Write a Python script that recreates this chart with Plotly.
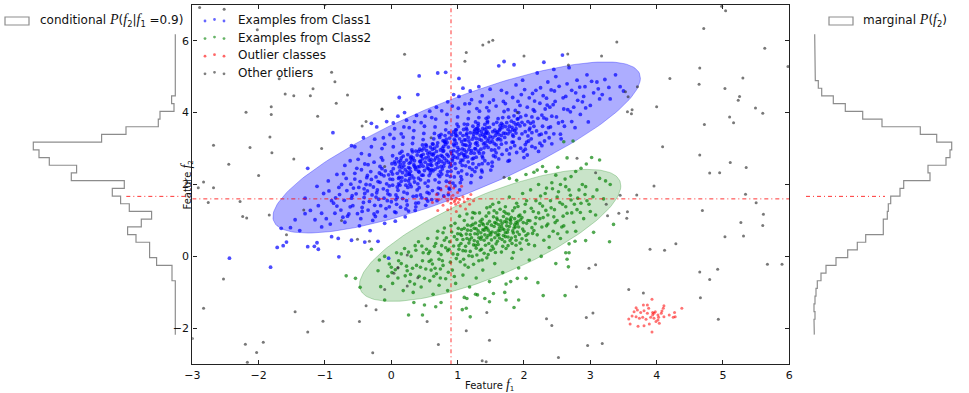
import plotly.graph_objects as go
import math

W, H = 969, 393
x_ticks = [-3, -2, -1, 0, 1, 2, 3, 4, 5, 6]
y_ticks = [-2, 0, 2, 4, 6]
f1_condition = 0.9
f2_condition = 1.6
hist_marker = 1.67

hist_edges = [6.176, 5.962, 5.748, 5.534, 5.319, 5.105, 4.891, 4.677, 4.463, 4.249, 4.035, 3.820, 3.606,
              3.392, 3.178, 2.964, 2.750, 2.536, 2.321, 2.107, 1.893, 1.679, 1.465, 1.251, 1.037, 0.822,
              0.608, 0.394, 0.180, -0.034, -0.248, -0.462, -0.677, -0.891, -1.105, -1.319, -1.533, -1.747,
              -1.961, -2.175]
cond_counts = [0, 0, 0, 0, 0, 0, 0, 0, 3.7, 1.3, 15.3, 17, 49.3, 73.7, 142, 136.3, 126, 98.7, 104, 51, 63,
               54.7, 46, 23.7, 34, 47.7, 39.3, 25.7, 25.7, 18.7, 3.3, 3.3, 0, 0, 0, 0, 0, 0, 0]
marg_counts = [0.7, 0.7, 0.7, 1, 1.3, 1.3, 4.3, 7.7, 19.3, 31.3, 48.7, 68, 106.3, 122.7, 137.7, 136, 132, 114,
               116, 89.7, 86, 76.7, 74.3, 73.3, 69.3, 69.3, 51.7, 43.3, 33.7, 22, 12, 7, 3.3, 2, 1, 0, 1, 0, 0.3]

# ellipse: centre x, centre y, half extent x, half extent y, correlation
ellipse1 = (0.985, 3.03, 2.77, 2.38, 0.81)
ellipse2 = (1.49, 0.585, 1.97, 1.835, 0.75)

class1 = [
(-2.44,-.05),(-1.82,-.3),(-1.72,.25),(-1.63,.3),(-1.58,.4),(-1.26,.27),(-1.16,.28),(-1.1,.2),(-1.12,.38),(-.79,-.01),
(-.9,.55),(-.8,.5),(-.6,.45),(-.4,.4),(-.2,.42),(-.04,-.05),(-1.26,2.45),(-.6,3.08),(-.88,3.44),(-.07,3.75),(.1,3.9),
(-1.66,.78),(-1.52,.8),(-1.45,1.02),(-1.3,1.19),(-1.38,.72),(-1.1,1.41),(-1.22,1.28),(-1.05,1.2),(-.98,1.05),(-1.15,1.02),
(-.9,1.55),(-1.02,1.75),(-1.3,1.62),(-1.12,1.95),(-.95,2.1),(-1.05,.82),(-.92,.9),(-.85,1.2),(-.82,1.4),(-.78,1.72),
(-.75,2.0),(-.72,2.3),(-.7,.95),(-.66,1.12),(-.62,1.38),(-.6,1.62),(-.57,1.9),(-.55,2.15),(-.52,2.45),(-.5,2.7),(-.48,.85),
(-.46,1.05),(-.44,1.25),(-.42,1.5),(-.4,1.75),(-.38,2.0),(-.36,2.25),(-.35,2.55),(-.33,2.82),(-.3,3.05),(-.32,.72),(-.28,1.0),
(-.26,1.18),(-.25,1.42),(-.23,1.65),(-.21,1.85),(-.2,2.08),(-.18,2.32),(-.17,2.5),(-.15,2.75),(-.14,3.0),(-.12,3.3),(-.1,.92),
(-.09,1.12),(-.08,1.33),(-.06,1.55),(-.05,1.74),(-.03,1.96),(-.02,2.15),(0,2.36),(.01,2.58),(.02,2.8),(.03,3.05),(.04,3.28),
(.05,3.55),(.06,.98),(.07,1.22),(.08,1.45),(.09,1.64),(.1,1.84),(.11,2.02),(.12,2.2),(.13,2.38),(.14,2.56),(.15,2.74),(.16,2.92),
(.17,3.12),(.18,3.32),(.19,3.6),(.2,4.0),(.21,1.1),(.22,1.32),(.23,1.55),(.24,1.75),(.25,1.92),(.26,2.1),(.27,2.28),(.28,2.45),
(.29,2.62),(.3,2.78),(.31,2.96),(.32,3.14),(.33,3.3),(.34,3.5),(.35,3.75),(.36,1.28),(.37,1.48),(.38,1.68),(.39,1.85),(.4,2.02),
(.41,2.18),(.42,2.34),(.43,2.5),(.44,2.65),(.45,2.8),(.46,2.95),(.47,3.1),(.48,3.25),(.49,3.42),(.5,3.62),(.51,3.9),(.52,1.42),
(.53,1.6),(.54,1.78),(.55,1.95),(.56,2.1),(.57,2.25),(.58,2.4),(.59,2.55),(.6,2.7),(.61,2.84),(.62,2.98),(.63,3.12),(.64,3.27),
(.65,3.42),(.66,3.6),(.67,3.82),(.68,4.15),(.69,1.55),(.7,1.74),(.71,1.9),(.72,2.06),(.73,2.22),(.74,2.36),(.75,2.5),(.76,2.64),
(.77,2.78),(.78,2.92),(.79,3.06),(.8,3.2),(.81,3.36),(.82,3.52),(.83,3.72),(.84,3.95),(.85,4.3),(.86,1.72),(.87,1.9),(.88,2.06),
(.89,2.22),(.9,2.37),(.91,2.52),(.92,2.66),(.93,2.8),(.94,2.94),(.95,3.08),(.96,3.22),(.97,3.37),(.98,3.52),(.99,3.68),(1.0,3.88),
(1.01,4.12),(1.02,4.45),(1.03,1.85),(1.04,2.05),(1.05,2.22),(1.06,2.38),(1.07,2.53),(1.08,2.68),(1.09,2.82),(1.1,2.96),(1.11,3.1),
(1.12,3.24),(1.13,3.38),(1.14,3.52),(1.15,3.67),(1.16,3.83),(1.17,4.02),(1.18,4.25),(1.19,4.6),(1.2,2.05),(1.21,2.25),(1.22,2.42),
(1.23,2.58),(1.24,2.73),(1.25,2.87),(1.26,3.0),(1.27,3.14),(1.28,3.28),(1.29,3.42),(1.3,3.56),(1.31,3.7),(1.32,3.86),(1.33,4.04),
(1.34,4.3),(1.35,2.2),(1.36,2.4),(1.37,2.58),(1.38,2.74),(1.39,2.88),(1.4,3.02),(1.41,3.16),(1.42,3.3),(1.43,3.44),(1.44,3.58),
(1.45,3.72),(1.46,3.87),(1.47,4.05),(1.48,4.28),(1.49,4.65),(1.5,2.4),(1.52,2.62),(1.54,2.8),(1.56,2.96),(1.58,3.1),(1.6,3.25),
(1.62,3.4),(1.64,3.55),(1.66,3.7),(1.68,3.86),(1.7,4.03),(1.72,4.25),(1.74,4.55),(1.76,2.65),(1.78,2.85),(1.8,3.02),(1.82,3.18),
(1.84,3.34),(1.86,3.5),(1.88,3.66),(1.9,3.82),(1.92,4.0),(1.94,4.2),(1.96,4.5),(1.98,4.9),(2.0,2.75),(2.02,2.98),(2.04,3.18),
(2.06,3.35),(2.08,3.52),(2.1,3.7),(2.12,3.88),(2.14,4.08),(2.16,4.32),(2.18,4.62),(2.2,5.1),(2.22,2.92),(2.24,3.15),(2.26,3.4),
(2.28,3.62),(2.3,3.85),(2.32,4.1),(2.34,4.4),(2.36,4.85),(2.38,3.3),(2.4,3.6),(2.42,3.9),(2.44,4.22),(2.46,4.6),(2.48,5.0),
(2.55,3.4),(2.58,3.75),(2.6,4.1),(2.63,4.45),(2.65,4.8),(2.68,5.25),(2.72,3.75),(2.75,4.15),(2.78,4.55),(2.8,4.9),(2.85,3.95),
(2.88,4.3),(2.92,4.72),(2.95,5.05),(3.0,4.2),(3.05,4.55),(3.1,4.85),(3.18,4.5),(3.28,4.7),(3.38,5.05),(3.45,4.72),(3.5,4.6),
(.42,5.02),(.7,5.1),(.82,5.12),(1.02,4.95),(1.62,5.3),(1.7,5.42),(1.85,5.33),(2.3,5.4),(2.58,5.6),(2.45,5.2),(.4,4.5),(.12,4.42),
(-.3,3.7),(-.42,3.3),(-.55,3.05),(-.22,3.6),
]
class1_core = [
(.37,2.93),(1.22,2.71),(.64,2.86),(1.71,3.31),(.13,2.87),(.93,2.04),(1.48,3.59),(.51,2.62),(1.09,3.53),(.28,2.01),(1.87,4.06),(.72,3.36),
(1.33,2.87),(.44,2.13),(1.61,3.83),(.86,3.04),(1.16,2.63),(.08,2.72),(1.94,3.63),(.59,2.32),(1.27,3.74),(.21,2.41),(1.55,3.14),(.67,2.74),
(1.03,3.27),(.34,2.55),(1.79,3.47),(.97,2.45),(1.42,3.41),(.16,2.19),(1.13,3.09),(.79,2.51),(2.03,3.92),(.49,3.01),(1.36,3.23),(.03,2.44),
(1.68,3.66),(.88,3.29),(1.19,3.44),(.56,2.77),(1.51,2.96),(.25,2.83),(1.84,3.18),(.76,2.29),(1.07,2.99),(.41,2.37),(1.63,3.51),(.94,3.46),
(1.29,3.17),(.62,3.13),(1.97,3.41),(.19,2.52),(1.45,3.76),(.83,2.67),(1.11,2.82),(.47,2.71),(1.74,3.72),(.31,2.24),(1.38,3.56),(.69,3.07),
(1.24,3.33),(.54,2.46),(1.91,3.83),(.99,2.91),(1.57,3.36),(.11,2.63),(1.01,3.61),(.74,2.96),(1.46,3.03),(.39,2.82),(1.82,3.59),(.89,2.58),
(1.17,3.21),(.58,2.89),(1.65,3.24),(.23,2.68),(1.31,3.64),(.81,3.17),(2.09,3.57),(.46,2.26),(1.54,3.68),(.96,2.76),(1.21,2.94),(.66,2.43),
(1.77,3.87),(.06,2.57),(1.39,3.13),(.85,2.36),(1.14,3.42),(.52,3.11),(1.69,3.43),(.33,2.74),(1.04,2.61),(.91,3.38),(1.47,3.27),(.71,2.61),
(1.93,3.28),(.17,2.33),(1.26,3.52),(.61,2.53),(1.59,3.73),(.43,2.98),(1.06,3.19),(.78,3.22),(1.35,2.98),(.27,2.59),(1.81,3.76),(.98,3.14),
(1.44,3.48),(.57,2.68),(1.12,2.52),(.84,2.84),(1.73,3.16),(.36,2.47),(1.23,3.62),(.68,2.92),(2.14,3.74),(.02,2.29),(1.53,3.47),(.92,2.71),
(1.18,3.06),(.48,2.84),(1.62,3.02),(.73,3.31),(1.34,3.37),(.22,2.26),(1.88,3.43),(1.02,2.83),(1.49,3.34),(.63,2.38),(1.28,2.76),(.87,3.44),
(1.67,3.58),(.32,2.91),(1.08,3.36),(.55,2.55),(1.76,3.53),(.95,3.26),(1.41,3.67),(.12,2.49),(1.2,2.87),(.77,2.43),(2.01,3.66),(.45,2.58),
(1.58,2.88),(.82,3.12),(1.1,3.68),(.65,3.01),(1.37,2.79),(.29,2.36),(1.85,3.91),(.9,2.92),(1.25,3.47),(.53,2.95),(1.66,3.12),(.18,2.79),
(1.05,2.68),(.75,2.81),(1.43,3.84),(.35,2.66),(1.72,3.61),(.97,3.52),(1.15,2.77),(.6,2.63),(1.52,3.21),(.05,2.63),(1.3,3.09),(.8,2.73),
(2.07,3.21),(.4,2.49),(1.6,3.46),(1.0,3.03),(1.32,3.51),(.7,2.48),(1.83,3.38),(.26,2.47),(1.13,2.91),(.5,2.39),(1.4,3.34),(.86,2.62),
(-.23,2.21),(-.41,1.64),(-.12,1.88),(-.58,1.41),(-.31,2.36),(-.07,2.02),(-.67,1.83),(-.19,1.59),(-.47,2.08),(-.02,1.71),(-.35,1.29),(-.71,1.56),
(-.14,2.44),(-.53,1.74),(-.27,1.93),(-.04,2.27),(-.44,1.36),(-.84,1.63),(-.16,1.41),(-.37,2.19),(-.61,2.01),(.0,1.52),(-.29,1.71),(-.76,1.29),
(-.09,2.38),(-.49,1.92),(-.21,1.24),(-.64,1.18),(-.33,1.53),(.02,1.98),(-.55,2.31),(-.11,1.62),(-.4,2.57),(-.87,1.48),(-.26,2.62),(-.68,2.17),
(-.17,2.06),(-.51,1.19),(-.36,1.82),(-.03,1.38),(-.79,1.92),(-.24,1.11),(-.45,2.41),(.07,1.71),(-.59,1.69),(-.13,2.68),(-.73,1.09),(-.3,2.14),
(.09,1.93),(.24,1.43),(.15,2.09),(.33,1.67),(.05,1.24),(.42,1.91),(.19,1.79),(.11,2.17),(.37,1.38),(.28,2.17),(.46,1.63),(.14,1.37),(.51,2.04),
(.3,1.94),(.07,1.58),(.41,1.49),(.22,1.98),(.57,1.75),(.35,2.07),(.17,1.61),(.48,2.26),(.61,1.58),(.26,1.26),(.44,1.71),(.66,2.13),(.55,1.54),
(.74,1.88),(.62,1.83),(.83,2.09),(.79,1.68),(.95,2.21),(.88,1.87),(1.06,2.14),(.71,2.27),(1.01,2.33),(.84,2.26),(1.14,2.29),(.96,1.96),
(1.26,2.36),(1.18,2.47),(1.32,2.55),(1.41,2.66),(1.28,2.47),(1.46,2.58),(1.57,2.77),(1.37,2.35),(1.67,2.84),(1.52,2.51),(1.74,2.96),(1.62,2.71),
(1.86,3.08),(1.95,3.01),(1.78,2.67),(2.02,3.11),(1.89,2.89),(2.11,3.27),(1.99,2.93),(2.17,3.02),(2.23,3.38),(2.05,2.82),(2.31,3.21),(2.12,3.06),
(2.37,3.58),(2.27,3.08),(2.45,3.41),(2.19,3.49),(2.52,3.71),(2.33,3.44),(2.42,3.13),(2.61,3.62),(2.49,3.88),(2.7,4.02),(2.56,3.27),(2.39,4.15),
(2.05,4.15),(1.91,4.31),(2.16,4.04),(1.76,4.08),(2.24,4.26),(1.83,4.42),(2.29,4.47),(1.58,4.18),(2.08,4.41),(1.69,4.31),(2.35,4.21),(1.44,4.14),
(2.13,4.53),(1.54,4.35),(2.47,4.31),(1.29,4.11),(2.01,4.64),(1.37,4.47),(2.59,4.41),(1.21,4.36),(2.25,4.69),(1.11,4.24),(2.41,4.63),(.92,4.18),
(1.66,4.62),(.76,4.05),(1.88,4.77),(.61,3.86),(2.53,4.73),(.94,4.5),(1.32,4.72),(.58,4.04),(2.72,4.62),(.45,3.72),(1.08,4.68),(.27,3.58),
(2.66,4.08),(.38,3.92),(2.81,4.34),(.15,3.41),(2.93,4.13),(.23,3.79),(2.84,4.71),(-.02,3.39),(3.02,4.87),(.03,3.71),(3.14,4.38),(-.1,3.12),
(2.97,3.74),(-.25,3.26),(3.22,4.92),(-.45,2.86),(2.77,3.58),(-.62,2.66),(3.3,4.38),(-.7,2.53),(2.9,4.45),(-.82,2.28),(3.12,4.66),(-.94,1.82),
(.52,2.74),(1.19,3.13),(.86,2.79),(.31,2.69),(1.04,3.43),(.68,2.57),(1.36,3.47),(.94,3.12),(.16,2.47),(1.53,3.31),(.77,3.01),(1.11,2.76),
(.41,2.92),(1.27,2.99),(.59,3.04),(1.46,3.42),(.83,3.26),(1.02,2.97),(.24,2.35),(1.62,3.28),(.72,2.69),(1.16,3.31),(.48,2.51),(1.33,3.26),
(.91,2.86),(1.72,3.42),(.63,2.82),(1.08,3.11),(.37,2.42),(1.43,3.09),(.79,2.94),(1.22,3.26),(.56,2.44),(1.56,3.51),(.99,3.35),(.14,2.66),
(1.31,2.93),(.7,3.16),(1.83,3.52),(.45,2.79),(1.13,3.57),(.88,2.49),(1.49,3.17),(.29,2.74),(1.06,2.87),(.65,2.68),(1.66,3.36),(.96,2.58),
(1.24,3.41),(.53,3.07),(1.38,3.39),(.75,3.39),(1.78,3.62),(.19,2.61),(1.0,2.74),(1.58,3.44),(.61,2.41),(1.17,2.97),(.84,3.17),(1.3,3.46),
(.43,2.64),(1.91,3.69),(.97,3.43),(1.45,3.21),(.7,2.78),(1.1,3.24),(.55,2.86),(1.28,3.55),(.8,2.59),(1.64,3.64),(.35,2.51),(1.41,3.53),
(-.15,2.28),(.02,2.14),(-.32,1.99),(.09,2.31),(-.22,1.77),(.21,2.12),(-.06,1.83),(.13,1.98),(-.41,1.88),(.27,2.29),(-.11,2.24),(.34,2.18),
(1.85,3.72),(2.06,3.75),(1.95,3.88),(2.15,3.62),(1.76,3.41),(2.21,3.84),(1.88,3.55),(2.02,3.47),(2.27,3.93),(1.97,3.73),(2.12,3.44),(2.34,3.82),
]
class2 = [
(-.68,-.54),(-.54,-.61),(-.47,-.86),(-.16,-.84),(-.1,-1.21),(.26,-1.63),(.34,-1.28),(.47,-1.63),(.5,-1.35),(.67,-1.4),(.75,-1.28),
(1.1,-1.14),(1.14,-1.17),(1.07,-1.48),(1.19,-1.68),(1.13,-1.44),(1.27,-1.05),(1.3,-1.07),(1.41,-1.17),(1.54,-1.03),(1.48,-1.26),
(1.71,-1.0),(1.73,-1.21),(1.92,-1.21),(1.85,-1.42),(2.29,-1.09),(2.62,-1.09),(2.21,-.73),(2.03,-.61),(1.9,-.61),(1.8,-.7),(1.73,-.77),
(2.67,-.29),(2.65,-.08),(2.68,.1),(3.29,.41),(2.93,.44),(3.05,.67),(3.35,.89),(2.77,.42),(2.63,.1),(2.65,2.74),(3.02,2.75),(3.14,2.68),
(2.94,2.57),(2.86,2.45),(2.51,2.48),(2.6,3.19),(2.74,3.21),(2.28,2.5),(2.2,2.4),(2.15,2.34),(2.03,2.28),(1.89,2.12),(1.78,2.17),
(3.23,2.1),(3.14,2.17),(2.78,2.36),(2.71,2.22),(2.93,1.94),(2.83,1.85),(3.04,1.66),(3.08,1.15),(2.86,1.48),(2.71,1.57),(2.63,1.94),
(2.48,2.26),(2.33,2.36),(-.3,.2),(-.2,-.4),(-.1,.0),(-.05,-.55),(0,-.3),(.02,-.75),(.08,.1),(.1,-.6),(.15,-.2),(.18,-.95),(.2,.22),
(.24,-.4),(.28,-.7),(.3,.0),(.33,-1.0),(.36,.3),(.38,-.25),(.42,-.55),(.45,-.85),(.48,.1),(.52,-.35),(.55,.5),(.58,-.68),(.6,-.1),
(.63,-1.05),(.65,.28),(.68,-.48),(.7,.7),(.72,-.8),(.75,.05),(.78,-.25),(.8,.45),(.82,-.62),(.85,-.95),(.87,.2),(.9,.85),(.92,-.38),
(.95,.55),(.97,-.75),(1.0,.05),(1.02,.3),(1.04,-.15),(1.06,.75),(1.08,-.52),(1.1,1.0),(1.12,.15),(1.14,.5),(1.16,-.3),(1.18,-.85),
(1.2,.85),(1.22,.0),(1.24,.32),(1.26,1.2),(1.28,-.6),(1.3,.62),(1.32,-.12),(1.34,.98),(1.36,.2),(1.38,-.38),(1.4,.45),(1.42,.8),
(1.44,1.35),(1.46,.05),(1.48,-.7),(1.5,.6),(1.52,.28),(1.54,1.1),(1.56,-.2),(1.58,.92),(1.6,.42),(1.62,1.5),(1.64,.72),(1.66,.12),
(1.68,-.45),(1.7,1.25),(1.72,.55),(1.74,.85),(1.76,.3),(1.78,1.65),(1.8,1.0),(1.82,-.05),(1.84,.65),(1.86,1.35),(1.88,.45),
(1.9,.9),(1.92,-.32),(1.94,1.15),(1.96,.2),(1.98,1.75),(2.0,.7),(2.02,1.45),(2.04,.45),(2.06,1.0),(2.08,-.1),(2.1,1.85),(2.12,.8),
(2.14,1.25),(2.16,.3),(2.18,1.55),(2.2,.6),(2.22,2.0),(2.24,1.05),(2.26,.0),(2.28,1.4),(2.3,.45),(2.32,1.75),(2.34,.85),(2.36,1.15),
(2.38,.25),(2.4,1.55),(2.42,2.05),(2.44,.7),(2.46,1.3),(2.48,-.2),(2.5,1.0),(2.52,1.8),(2.55,.5),(2.58,1.45),(2.6,.85),(2.62,2.15),
(2.65,1.2),(2.68,.35),(2.7,1.7),(2.75,.95),(2.78,.7),(2.8,1.3),(2.88,2.0),(2.9,1.05),(2.95,1.55),(3.0,1.25),(3.1,1.85),(3.2,1.6),
(3.3,2.0),
]
class2_core = [
(1.13,.62),(1.71,.41),(1.34,.17),(1.92,1.12),(.94,.29),(1.56,.94),(1.22,1.07),(2.03,.58),(1.47,.36),(.83,.52),(1.78,.83),(1.09,-.08),
(1.64,1.31),(1.31,.71),(2.17,.91),(.71,.11),(1.52,.68),(1.88,.31),(1.17,.37),(1.43,1.12),(1.01,.78),(1.69,.58),(1.27,.93),(2.11,1.34),
(.62,-.21),(1.57,.11),(1.83,1.27),(1.36,.54),(.89,-.16),(1.74,1.04),(1.19,.14),(1.98,.76),(1.49,1.38),(.78,.66),(1.61,.71),(1.05,.36),
(1.87,.82),(1.39,.88),(2.07,.34),(.96,.92),(1.67,.92),(1.25,.44),(1.81,.51),(1.44,-.04),(.67,.36),(1.95,1.02),(1.33,1.21),(1.08,.16),
(1.73,.22),(1.51,.46),(2.22,1.21),(.85,.16),(1.59,1.21),(1.2,.72),(1.9,.68),(1.42,.31),(.99,.47),(1.77,1.18),(1.29,.04),(2.01,1.24),
(.74,-.35),(1.63,.51),(1.15,.87),(1.84,.11),(1.37,1.03),(.91,.68),(1.54,.21),(1.7,.74),(1.24,-.22),(2.13,.64),(1.46,.73),(1.03,1.12),
(1.79,.44),(1.31,.33),(1.94,.37),(.8,.79),(1.6,1.02),(1.12,.28),(1.86,1.05),(1.41,.6),(2.27,.82),(.93,.07),(1.68,.28),(1.28,.77),
(1.99,.94),(1.53,1.45),(.69,.51),(1.75,.67),(1.17,.02),(1.58,.35),(1.89,1.48),(1.35,.48),(1.06,.58),(2.09,.99),(1.48,.98),(.58,.14),
(1.82,.36),(1.23,1.22),(1.66,.84),(1.4,.09),(.98,-.06),(2.18,1.08),(1.56,.52),(1.1,.78),(1.72,1.38),(1.3,.41),(1.93,.61),(.76,.3),
(1.62,.61),(1.21,.52),(2.04,1.55),(1.45,.91),(.88,.41),(1.8,.92),(1.37,-.1),(1.97,.49),(1.14,1.18),(1.67,.47),(.56,.08),(1.5,.17),
(2.29,1.08),(1.26,.63),(1.85,.79),(1.02,.2),(1.76,.54),(1.38,.74),(2.15,.72),(.72,-.08),(1.6,.59),(1.18,.46),(1.91,1.39),(1.44,.52),
(1.0,.63),(1.71,.97),(1.33,.86),(2.06,.63),(.82,.24),(1.55,1.27),(1.11,-.24),(1.87,.55),(1.28,.23),(2.24,1.47),(.6,-.38),(1.47,1.21),
(.47,-.12),(.32,-.33),(.53,.2),(.21,-.54),(.41,.41),(.11,-.12),(.64,-.55),(.26,.12),(.01,-.45),(.5,-.61),(.35,-.77),(.15,.07),(.74,-.6),
(.44,-.3),(-.03,-.21),(.57,-.14),(.23,-.27),(.86,-.44),(.37,.17),(.06,-.37),(.66,-.33),(-.18,-.1),(.29,-.5),(.95,-.56),(.46,.29),(.77,-.12),
(2.34,1.9),(2.45,1.1),(2.5,1.65),(2.57,.82),(2.43,1.88),(2.63,1.38),(2.38,.55),(2.55,2.0),(2.72,1.21),(2.47,.94),(2.59,1.12),(2.81,1.62),
(2.41,1.35),(2.68,1.85),(2.33,1.28),(2.76,1.45),(2.51,.63),(2.85,1.22),(2.25,1.68),(2.92,1.72),(2.36,.9),(2.98,1.45),(2.54,1.5),(2.65,.68),
(1.74,.95),(1.63,.79),(1.81,1.09),(1.69,1.11),(1.88,.94),(1.57,.66),(1.76,.74),(1.92,.82),(1.65,.99),(1.83,.71),(1.51,.87),(1.72,.66),
(1.97,1.08),(1.59,1.07),(1.79,1.03),(1.44,.79),(1.68,.77),(1.86,.88),(2.04,.92),(1.55,.83),(1.73,1.2),(1.35,.66),(1.91,.98),(1.62,.88),
(1.25,.78),(1.4,.73),(1.19,.61),(1.32,.52),(1.08,.47),(1.46,.58),(1.27,.31),(1.15,.73),(1.37,.92),(1.04,.62),(1.23,.89),(1.49,.66),
]
class_outliers = [
(3.93,-1.19),(4.38,-1.44),(4.11,-1.37),(4.1,-1.44),(3.69,-1.43),(3.8,-1.35),(3.86,-1.35),(3.94,-1.56),(3.96,-1.58),(4.02,-1.63),
(4.08,-1.52),(4.27,-1.56),(4.25,-1.69),(4.28,-1.68),(4.19,-1.63),(4.11,-1.68),(4.03,-1.69),(3.99,-1.81),(4.04,-1.86),(3.89,-1.88),
(3.81,-1.93),(3.72,-1.94),(3.6,-1.88),(3.58,-1.74),(3.63,-1.66),(3.66,-1.54),(3.71,-1.49),(3.76,-1.56),(3.81,-1.51),(3.86,-1.58),
(3.79,-1.69),(3.74,-1.72),(3.69,-1.68),(3.84,-1.75),(3.91,-1.69),(3.96,-1.72),(4.02,-1.77),(4.07,-1.58),(3.93,-2.1),(3.88,-1.44),
(3.94,-1.63),(3.98,-1.54),(.62,1.5),(.68,1.72),(.72,1.58),(.75,1.85),(.78,1.42),(.8,1.66),(.83,1.95),(.85,1.54),(.86,1.78),(.88,2.05),
(.9,1.48),(.91,1.6),(.93,1.7),(.94,1.9),(.95,1.52),(.96,1.56),(.97,1.45),(.98,1.62),(1.0,1.78),(1.01,1.5),(1.03,1.58),(1.04,1.4),
(1.06,1.95),(1.08,1.66),(1.1,1.52),(1.12,1.32),(1.15,1.6),(1.18,1.45),(1.2,1.72),(1.24,1.55),(.7,1.28),(.85,1.3),(.98,1.25),
]
other_outliers = [
(-2.89,6.92),(-2.52,6.87),(-1.0,7.0),(-2.02,6.3),(-1.1,5.92),(-.9,5.12),(-.85,4.86),(-1.69,4.94),(-1.18,4.66),(-1.6,4.52),(-1.47,4.47),
(-1.22,4.47),(-.66,4.49),(-.83,4.26),(-1.81,4.16),(-2.19,4.01),(-1.81,3.95),(-1.11,3.9),(-.14,4.1),(-.38,3.75),(-.44,3.63),(-1.83,3.32),
(-2.68,3.09),(-2.13,3.03),(-1.05,3.0),(-1.8,2.88),(-1.47,2.71),(-2.45,2.56),(-2.0,2.25),(-2.83,2.07),(-2.91,1.91),(-2.68,1.91),
(-2.76,1.5),(-2.28,1.53),(-2.24,1.11),(-2.18,1.07),(-1.84,1.15),(-1.58,.6),(-1.32,1.29),(-.51,.48),(-.33,.42),(-2.53,-.63),(-2.83,-1.44),
(-1.45,-1.54),(-.38,-1.37),(-.23,-1.48),(-1.03,-1.8),(-.48,-1.81),(-1.26,-2.1),(-3.0,-2.28),(-2.2,-2.44),(-1.93,-2.39),(-2.03,-2.67),
(-2.17,-2.94),(-.28,-2.68),(-.1,-.92),(.1,-.31),(4.98,6.96),(5.04,6.83),(4.71,6.34),(5.63,5.79),(5.98,5.28),(4.65,5.24),(4.64,4.79),
(5.3,4.96),(5.03,4.67),(5.25,4.45),(5.23,4.34),(5.49,4.13),(5.6,3.98),(5.1,3.88),(5.16,3.72),(4.72,3.67),(4.65,2.82),(5.11,2.61),
(5.35,2.47),(4.8,2.32),(4.95,2.33),(5.34,1.73),(5.5,1.49),(4.69,1.28),(5.61,1.17),(5.27,.94),(5.6,.86),(5.03,.55),(5.31,.57),(5.67,-.22),
(5.89,-.22),(4.92,-.36),(4.65,-.43),(4.8,-.64),(4.66,-1.15),(4.93,-1.75),(1.38,5.88),(1.47,5.96),(1.53,6.01),(3.4,5.96),(.2,5.62),
(1.13,5.67),(1.11,5.43),(2.0,5.57),(2.66,5.63),(3.17,5.57),(2.67,5.32),(-.14,4.09),(4.2,4.95),(4.0,4.16),(3.56,4.02),(3.63,4.08),
(3.62,3.97),(3.53,4.58),(3.57,4.44),(3.71,4.72),(4.09,3.05),(2.8,2.73),(3.08,2.33),(3.96,1.96),(3.7,1.71),(3.45,1.7),(3.24,1.45),
(3.56,1.24),(3.43,1.2),(3.55,1.06),(3.26,1.13),(4.29,.35),(3.9,.2),(4.12,.17),(3.08,-.23),(2.98,-.33),(2.79,-.84),(3.58,-.92),(3.8,-1.02),
(3.04,-1.57),(2.94,-1.7),(2.34,-1.73),(2.42,-1.92),(1.44,-1.56),(1.13,-2.07),(1.48,-2.33),(.71,-2.45),(.54,-1.81),(1.37,-2.9),(1.43,-2.93),
(2.52,-2.81),(2.96,-2.48),(3.18,-2.42),(.24,.04),(.1,-.32),(.4,-.59),(.24,-.82),(.04,-.47),(-.75,1.0),(1.7,2.2),(.6,3.3),(1.9,4.0),(-.1,2.5),
]

legend_labels = ["Examples from Class1", "Examples from Class2", "Outlier classes", "Other otliers"]
legend_colors = ["rgba(0,0,255,.6)", "rgba(0,128,0,.6)", "rgba(255,0,0,.6)", "rgba(40,40,40,.6)"]

HIST = "rgba(0,0,0,.45)"
DASH = "rgba(255,0,0,.8)"


def ellipse_xy(e):
    cx, cy, ax, ay, rho = e
    phi = math.acos(rho)
    t = [2 * math.pi * i / 180 for i in range(181)]
    return [cx + ax * math.cos(a) for a in t], [cy + ay * math.cos(a - phi) for a in t]


def step_xy(counts, edges):
    xs, ys = [], []
    for i, c in enumerate(counts):
        xs += [c, c]
        ys += [edges[i], edges[i + 1]]
    return xs, ys


fig = go.Figure()
for e, line, fill in [(ellipse1, "rgba(0,0,255,.3)", "rgba(0,0,255,.32)"),
                      (ellipse2, "rgba(0,128,0,.25)", "rgba(0,128,0,.21)")]:
    ex, ey = ellipse_xy(e)
    fig.add_trace(go.Scatter(x=ex, y=ey, mode="lines", fill="toself", fillcolor=fill,
                             line=dict(color=line, width=1), hoverinfo="skip"))

for pts, col, name, op, sz in [(class1 + class1_core, "#0000ff", legend_labels[0], .7, 3.8),
                               (class2 + class2_core, "#008000", legend_labels[1], .68, 3.6),
                               (other_outliers, "#303030", legend_labels[3], .65, 3),
                               (class_outliers, "#ff0000", legend_labels[2], .55, 3)]:
    fig.add_trace(go.Scatter(x=[p[0] for p in pts], y=[p[1] for p in pts], mode="markers", name=name,
                             marker=dict(color=col, size=sz, opacity=op, line=dict(width=0))))

dash = dict(color=DASH, width=1, dash="4px,3px,1px,3px")
fig.add_trace(go.Scatter(x=[-3, 6], y=[f2_condition] * 2, mode="lines", line=dash))
fig.add_trace(go.Scatter(x=[f1_condition] * 2, y=[-3, 7], mode="lines", line=dash))

hx, hy = step_xy(cond_counts, hist_edges)
fig.add_trace(go.Scatter(x=hx, y=hy, xaxis="x2", mode="lines", line=dict(color=HIST, width=1.2)))
fig.add_trace(go.Scatter(x=[49, -17], y=[hist_marker] * 2, xaxis="x2", mode="lines", line=dash))
hx, hy = step_xy(marg_counts, hist_edges)
fig.add_trace(go.Scatter(x=hx, y=hy, xaxis="x3", mode="lines", line=dict(color=HIST, width=1.2)))
fig.add_trace(go.Scatter(x=[-8, 71], y=[hist_marker] * 2, xaxis="x3", mode="lines", line=dash))

axis = dict(showgrid=False, zeroline=False, showline=True, linecolor="#222", linewidth=1.4, mirror="ticks",
            ticks="inside", ticklen=4, tickwidth=1, tickcolor="#222",
            tickfont=dict(family="DejaVu Sans", size=11, color="#111"), automargin=False)
shapes, annotations = [], []
for i, (lab, col) in enumerate(zip(legend_labels, legend_colors)):
    py = 20 + i * 17.6
    for px, pyo in [(205, 1), (214.5, -.5), (224, 1)]:
        shapes.append(dict(type="circle", xref="paper", yref="paper", layer="above",
                           x0=(px - 1.4) / W, x1=(px + 1.4) / W,
                           y0=1 - (py + pyo + 1.4) / H, y1=1 - (py + pyo - 1.4) / H,
                           fillcolor=col, line=dict(width=0)))
    annotations.append(dict(text=lab, xref="paper", yref="paper", x=235.5 / W, y=1 - py / H, xanchor="left",
                            yanchor="middle", showarrow=False, font=dict(family="DejaVu Sans", size=12, color="#111")))

for x0, x1 in [(5, 29), (829, 853)]:
    shapes.append(dict(type="rect", xref="paper", yref="paper", x0=x0 / W, x1=x1 / W,
                       y0=1 - 25 / H, y1=1 - 17 / H, line=dict(color=HIST, width=1.2), fillcolor="white"))
serif = 'font-family:Liberation Serif;font-style:italic;font-size:14px'
P = f'<span style="{serif}">P</span>'
f = f'<span style="{serif}">f</span>'
annotations += [
    dict(text=f'conditional {P}({f}<sub>2</sub>|{f}<sub>1</sub> =0.9)', xref="paper", yref="paper", x=37.5 / W, y=1 - 21 / H,
         xanchor="left", yanchor="middle", showarrow=False, font=dict(family="DejaVu Sans", size=12, color="#111")),
    dict(text=f'marginal {P}({f}<sub>2</sub>)', xref="paper", yref="paper", x=860.5 / W, y=1 - 21 / H,
         xanchor="left", yanchor="middle", showarrow=False, font=dict(family="DejaVu Sans", size=12, color="#111")),
    dict(text=f'Feature {f}<sub>1</sub>', xref="paper", yref="paper", x=489 / W, y=1 - 385 / H,
         xanchor="center", yanchor="middle", showarrow=False, font=dict(family="DejaVu Sans", size=10, color="#111")),
    dict(text=f'Feature {f}<sub>2</sub>', xref="paper", yref="paper", x=186.5 / W, y=1 - 185 / H, textangle=-90,
         xanchor="center", yanchor="middle", showarrow=False, font=dict(family="DejaVu Sans", size=10, color="#111")),
]

fig.update_layout(
    width=W, height=H, autosize=False, margin=dict(l=0, r=0, t=0, b=0), showlegend=False,
    plot_bgcolor="white", paper_bgcolor="white", shapes=shapes, annotations=annotations,
    xaxis=dict(axis, domain=[192.3 / W, 789.3 / W], range=[-3, 6], tickvals=x_ticks, tickformat="d"),
    yaxis=dict(axis, domain=[1 - 364.3 / H, 1 - 4.7 / H], range=[-3, 7], tickvals=y_ticks),
    xaxis2=dict(domain=[0, 192 / W], range=[175.3, -16.7], visible=False, anchor="y"),
    xaxis3=dict(domain=[790 / W, 1], range=[-24, 155], visible=False, anchor="y"),
)
fig.write_html("out.html", config=dict(displayModeBar=False),
               post_script="document.body.style.margin='0';")
